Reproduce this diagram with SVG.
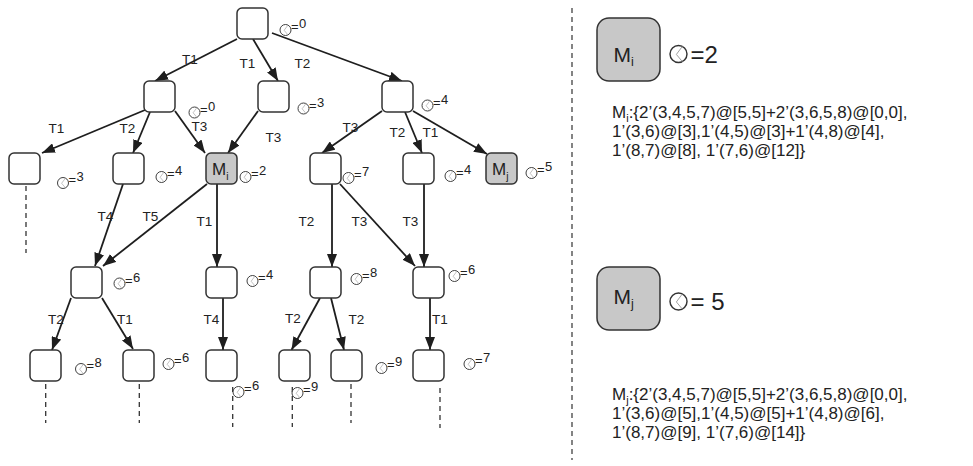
<svg xmlns="http://www.w3.org/2000/svg" xmlns:xlink="http://www.w3.org/1999/xlink" width="973" height="466" viewBox="0 0 973 466">
  <style>
    .nd { fill: #ffffff; stroke: #333333; stroke-width: 1.5; }
    .hl { fill: #c8c8c8; stroke: #333333; stroke-width: 1.5; }
    .ed { stroke: #1e1e1e; stroke-width: 1.8; fill: none; marker-end: url(#ah); }
    .dl { stroke: #333333; stroke-width: 1.3; stroke-dasharray: 5 4; fill: none; }
    .tl { font-family: "Liberation Sans", Arial, sans-serif; font-size: 13.5px; fill: #222222; text-anchor: middle; }
    .sm { font-family: "Liberation Sans", Arial, sans-serif; font-size: 13px; fill: #222222; }
    .mk { font-family: "Liberation Sans", Arial, sans-serif; font-size: 17px; fill: #222222; }
    .big { font-family: "Liberation Sans", Arial, sans-serif; font-size: 21px; fill: #222222; }
    .eq { font-family: "Liberation Sans", Arial, sans-serif; font-size: 24px; fill: #222222; }
    .tx { font-family: "Liberation Sans", Arial, sans-serif; font-size: 17px; fill: #222222; }
  </style>
  <defs>
    <marker id="ah" markerUnits="userSpaceOnUse" markerWidth="13" markerHeight="10" refX="13" refY="5" orient="auto">
      <path d="M0,0 L13,5 L0,10 z" fill="#1e1e1e"/>
    </marker>
    <!-- clock glyph: unit radius 10, scaled where used -->
    <g id="clk">
      <circle r="10" fill="#ffffff" stroke="#333333" stroke-width="1.7"/>
      <polyline points="4.5,-8.9 -2.5,0.5 4.5,8.9" fill="none" stroke="#9a9a9a" stroke-width="1.1"/>
    </g>
  </defs>

  <rect width="973" height="466" fill="#ffffff"/>

  <!-- connectors -->
  <g id="connectors">
    <path class="ed" d="M237,39 L155,81"/>
    <path class="ed" d="M253,39 L278,81"/>
    <path class="ed" d="M272,33 L402,81"/>
    <path class="ed" d="M145,110 L42,153"/>
    <path class="ed" d="M150,112 L133,153"/>
    <path class="ed" d="M175,111 L205,153"/>
    <path class="ed" d="M258,111 L228,153"/>
    <path class="ed" d="M382,111 L322,153"/>
    <path class="ed" d="M405,112 L422,153"/>
    <path class="ed" d="M413,111 L487,154"/>
    <path class="ed" d="M123,184 L95,266"/>
    <path class="ed" d="M207,184 L103,266"/>
    <path class="ed" d="M217,184 L217,267"/>
    <path class="ed" d="M332,184 L332,267"/>
    <path class="ed" d="M340,184 L415,266"/>
    <path class="ed" d="M424,184 L424,267"/>
    <path class="ed" d="M71,298 L52,350"/>
    <path class="ed" d="M102,298 L133,349"/>
    <path class="ed" d="M223,298 L223,350"/>
    <path class="ed" d="M320,298 L291.5,350"/>
    <path class="ed" d="M331,298 L344,350"/>
    <path class="ed" d="M430,298 L430,350"/>

    <!-- transition labels -->
    <text class="tl" x="190" y="64">T1</text>
    <text class="tl" x="247.5" y="68">T1</text>
    <text class="tl" x="302.5" y="68">T2</text>
    <text class="tl" x="56.5" y="133">T1</text>
    <text class="tl" x="127.5" y="133">T2</text>
    <text class="tl" x="199.5" y="131">T3</text>
    <text class="tl" x="273.5" y="142">T3</text>
    <text class="tl" x="350.5" y="132">T3</text>
    <text class="tl" x="397.5" y="137">T2</text>
    <text class="tl" x="430.5" y="137">T1</text>
    <text class="tl" x="105.5" y="221">T4</text>
    <text class="tl" x="150.5" y="221">T5</text>
    <text class="tl" x="204.5" y="226">T1</text>
    <text class="tl" x="306.5" y="226">T2</text>
    <text class="tl" x="359.5" y="226">T3</text>
    <text class="tl" x="410.5" y="226">T3</text>
    <text class="tl" x="56" y="324">T2</text>
    <text class="tl" x="125" y="324">T1</text>
    <text class="tl" x="211.5" y="324">T4</text>
    <text class="tl" x="293" y="323">T2</text>
    <text class="tl" x="356.5" y="324">T2</text>
    <text class="tl" x="440" y="324">T1</text>

    <!-- unexplored continuations -->
    <path class="dl" d="M26,186 V253"/>
    <path class="dl" d="M45.7,384 V423"/>
    <path class="dl" d="M139.3,384 V423"/>
    <path class="dl" d="M232.7,387 V427"/>
    <path class="dl" d="M292.3,387 V427"/>
    <path class="dl" d="M351,384 V423"/>
    <path class="dl" d="M440,388 V428"/>
  </g>

  <!-- tree nodes -->
  <g id="n-root">
    <rect class="nd" x="237" y="8" width="31" height="31" rx="5"/>
    <use xlink:href="#clk" transform="translate(285.5,30) scale(0.55)"/>
    <text class="sm" x="291" y="31">=<tspan dx="0.5" dy="-3">0</tspan></text>
  </g>
  <g id="n-p">
    <rect class="nd" x="144" y="81" width="31" height="31" rx="5"/>
    <use xlink:href="#clk" transform="translate(194.5,112.5) scale(0.55)"/>
    <text class="sm" x="200" y="113.5">=<tspan dx="0.5" dy="-3">0</tspan></text>
  </g>
  <g id="n-q">
    <rect class="nd" x="258" y="81" width="31" height="31" rx="5"/>
    <use xlink:href="#clk" transform="translate(303.5,108.5) scale(0.55)"/>
    <text class="sm" x="309" y="109.5">=<tspan dx="0.5" dy="-3">3</tspan></text>
  </g>
  <g id="n-r">
    <rect class="nd" x="382" y="81" width="31" height="31" rx="5"/>
    <use xlink:href="#clk" transform="translate(427.5,105.5) scale(0.55)"/>
    <text class="sm" x="433" y="106.5">=<tspan dx="0.5" dy="-3">4</tspan></text>
  </g>
  <g id="n-a">
    <rect class="nd" x="9" y="153" width="31" height="31" rx="5"/>
    <use xlink:href="#clk" transform="translate(63,183) scale(0.55)"/>
    <text class="sm" x="68.5" y="184">=<tspan dx="0.5" dy="-3">3</tspan></text>
  </g>
  <g id="n-b">
    <rect class="nd" x="113" y="153" width="31" height="31" rx="5"/>
    <use xlink:href="#clk" transform="translate(161.5,177) scale(0.55)"/>
    <text class="sm" x="167" y="178">=<tspan dx="0.5" dy="-3">4</tspan></text>
  </g>
  <g id="n-mi">
    <rect class="hl" x="206" y="153" width="31" height="31" rx="5"/>
    <text class="mk" x="212" y="175">M<tspan font-size="10.5" dy="4.5">i</tspan></text>
    <use xlink:href="#clk" transform="translate(245.5,177) scale(0.55)"/>
    <text class="sm" x="251" y="178">=<tspan dx="0.5" dy="-3">2</tspan></text>
  </g>
  <g id="n-c">
    <rect class="nd" x="310" y="153" width="31" height="31" rx="5"/>
    <use xlink:href="#clk" transform="translate(348.5,178) scale(0.55)"/>
    <text class="sm" x="354" y="179">=<tspan dx="0.5" dy="-3">7</tspan></text>
  </g>
  <g id="n-d">
    <rect class="nd" x="403" y="153" width="31" height="31" rx="5"/>
    <use xlink:href="#clk" transform="translate(450.5,176) scale(0.55)"/>
    <text class="sm" x="456" y="177">=<tspan dx="0.5" dy="-3">4</tspan></text>
  </g>
  <g id="n-mj">
    <rect class="hl" x="486" y="153" width="31" height="31" rx="5"/>
    <text class="mk" x="492" y="175">M<tspan font-size="10.5" dy="4.5">j</tspan></text>
    <use xlink:href="#clk" transform="translate(531.5,173) scale(0.55)"/>
    <text class="sm" x="537" y="174">=<tspan dx="0.5" dy="-3">5</tspan></text>
  </g>
  <g id="n-e">
    <rect class="nd" x="71" y="267" width="31" height="31" rx="5"/>
    <use xlink:href="#clk" transform="translate(119.5,283.5) scale(0.55)"/>
    <text class="sm" x="125" y="284.5">=<tspan dx="0.5" dy="-3">6</tspan></text>
  </g>
  <g id="n-f">
    <rect class="nd" x="206" y="267" width="31" height="31" rx="5"/>
    <use xlink:href="#clk" transform="translate(252.5,281) scale(0.55)"/>
    <text class="sm" x="258" y="282">=<tspan dx="0.5" dy="-3">4</tspan></text>
  </g>
  <g id="n-g">
    <rect class="nd" x="310" y="267" width="31" height="31" rx="5"/>
    <use xlink:href="#clk" transform="translate(356.5,279) scale(0.55)"/>
    <text class="sm" x="362" y="280">=<tspan dx="0.5" dy="-3">8</tspan></text>
  </g>
  <g id="n-h">
    <rect class="nd" x="413" y="267" width="31" height="31" rx="5"/>
    <use xlink:href="#clk" transform="translate(454.5,276) scale(0.55)"/>
    <text class="sm" x="460" y="277">=<tspan dx="0.5" dy="-3">6</tspan></text>
  </g>
  <g id="n-i">
    <rect class="nd" x="30" y="350" width="31" height="31" rx="5"/>
    <use xlink:href="#clk" transform="translate(81,369) scale(0.55)"/>
    <text class="sm" x="86.5" y="370">=<tspan dx="0.5" dy="-3">8</tspan></text>
  </g>
  <g id="n-j">
    <rect class="nd" x="123" y="350" width="31" height="31" rx="5"/>
    <use xlink:href="#clk" transform="translate(168.5,364) scale(0.55)"/>
    <text class="sm" x="174" y="365">=<tspan dx="0.5" dy="-3">6</tspan></text>
  </g>
  <g id="n-k">
    <rect class="nd" x="206" y="350" width="31" height="31" rx="5"/>
    <use xlink:href="#clk" transform="translate(238.5,392) scale(0.55)"/>
    <text class="sm" x="244" y="393">=<tspan dx="0.5" dy="-3">6</tspan></text>
  </g>
  <g id="n-l">
    <rect class="nd" x="279" y="350" width="31" height="31" rx="5"/>
    <use xlink:href="#clk" transform="translate(297.5,393) scale(0.55)"/>
    <text class="sm" x="303" y="394">=<tspan dx="0.5" dy="-3">9</tspan></text>
  </g>
  <g id="n-m">
    <rect class="nd" x="331" y="350" width="31" height="31" rx="5"/>
    <use xlink:href="#clk" transform="translate(381.5,368) scale(0.55)"/>
    <text class="sm" x="387" y="369">=<tspan dx="0.5" dy="-3">9</tspan></text>
  </g>
  <g id="n-n">
    <rect class="nd" x="413" y="350" width="31" height="31" rx="5"/>
    <use xlink:href="#clk" transform="translate(469.5,364) scale(0.55)"/>
    <text class="sm" x="475" y="365">=<tspan dx="0.5" dy="-3">7</tspan></text>
  </g>

  <!-- separator -->
  <path id="divider" d="M572,8 V460" stroke="#333333" stroke-width="1.2" stroke-dasharray="5 4" fill="none"/>

  <!-- marking Mi detail -->
  <g id="detail-mi">
    <rect class="hl" x="597" y="18" width="63" height="63" rx="12"/>
    <text class="big" x="613.5" y="62">M<tspan font-size="12.5" dy="4">i</tspan></text>
    <use xlink:href="#clk" transform="translate(678.5,54) scale(0.85)"/>
    <text class="eq" x="690.5" y="62.5">=2</text>
    <text class="tx" x="612" y="117.5">M<tspan font-size="11" dy="4">i</tspan><tspan dy="-4">:{2’(3,4,5,7)@[5,5]+2’(3,6,5,8)@[0,0],</tspan></text>
    <text class="tx" x="612" y="137">1’(3,6)@[3],1’(4,5)@[3]+1’(4,8)@[4],</text>
    <text class="tx" x="612" y="156">1’(8,7)@[8], 1’(7,6)@[12]}</text>
  </g>

  <!-- marking Mj detail -->
  <g id="detail-mj">
    <rect class="hl" x="597" y="267" width="63" height="63" rx="12"/>
    <text class="big" x="613.5" y="304">M<tspan font-size="12.5" dy="4">j</tspan></text>
    <use xlink:href="#clk" transform="translate(678.5,301.5) scale(0.85)"/>
    <text class="eq" x="690.5" y="310">= 5</text>
    <text class="tx" x="612" y="399.5">M<tspan font-size="11" dy="4">j</tspan><tspan dy="-4">:{2’(3,4,5,7)@[5,5]+2’(3,6,5,8)@[0,0],</tspan></text>
    <text class="tx" x="612" y="419">1’(3,6)@[5],1’(4,5)@[5]+1’(4,8)@[6],</text>
    <text class="tx" x="612" y="438">1’(8,7)@[9], 1’(7,6)@[14]}</text>
  </g>
</svg>
